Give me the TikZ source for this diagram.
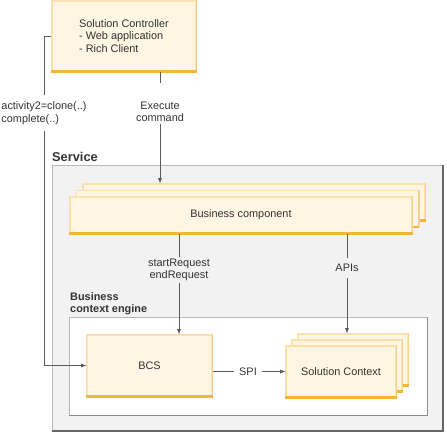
\documentclass[tikz,border=0pt]{standalone}
\usepackage{fontspec}
\setmainfont{Liberation Sans}
\usetikzlibrary{arrows}

\definecolor{cardfill}{HTML}{FEF6E2}
\definecolor{cardedge}{HTML}{FBE1B0}
\definecolor{cardside}{HTML}{F9D08A}
\definecolor{cardbase}{HTML}{F5B53A}
\definecolor{panelfill}{HTML}{F2F2F2}
\definecolor{wirecol}{HTML}{5A5A5A}
\definecolor{inktext}{HTML}{333333}

\tikzset{
	cardrim/.style={draw=cardside, line width=1.5pt},
	cardfoot/.style={draw=cardbase, line width=2.6pt},
	card/.style={fill=cardfill, draw=cardedge, line width=1.2pt, inner sep=2pt,
		append after command={
			(\tikzlastnode.north east) edge[cardrim] (\tikzlastnode.south east)
			(\tikzlastnode.south west) edge[cardfoot] (\tikzlastnode.south east)}},
	lbl/.style={font=\fontsize{10.9}{12.5}\selectfont, text=inktext, align=center, inner sep=2pt},
	head/.style={font=\bfseries\fontsize{10.9}{12.8}\selectfont, text=inktext, align=left, inner sep=0pt},
	wire/.style={draw=wirecol, line width=0.8pt},
	panel/.style={fill=panelfill, draw=gray!55, line width=0.8pt},
	panelrim/.style={draw=black!60, line width=1.5pt}
}

\begin{document}
\begin{tikzpicture}[x=1pt, y=-1pt]
		\useasboundingbox (0,0) rectangle (447,436);
		% service panel
		\draw[panel] (52,165) rectangle (443,431);
		\draw[panelrim] (443,165) -- (443,431) -- (52,431);
		\node[head, font=\bfseries\fontsize{12.8}{14}\selectfont, anchor=west] (svctitle) at (52,157) {Service};
		% business context engine
		\draw[panel, fill=white] (69,317) rectangle (427,415);
		\draw[panelrim, line width=1pt, draw=gray!90] (427,317) -- (427,415) -- (69,415);
		\node[head, anchor=north west] (bcetitle) at (70,292) {Business\\context engine};
		% cards
		\node[card, lbl, align=left, minimum width=144pt, minimum height=70pt] (ctrl) at (124,36) {Solution Controller\\- Web application\\- Rich Client};
		\foreach \k in {2,1}
			\node[card, minimum width=342pt, minimum height=36pt] (biz\k) at (241+6.5*\k, 215-6.5*\k) {};
		\node[card, lbl, minimum width=342pt, minimum height=36pt] (biz) at (241,215) {Business component};
		\node[card, lbl, minimum width=125pt, minimum height=61pt] (bcs) at (149.5,365.5) {BCS};
		\foreach \k in {2,1}
			\node[card, minimum width=110pt, minimum height=51pt] (ctx\k) at (341+6*\k, 371.5-6*\k) {};
		\node[card, lbl, minimum width=110pt, minimum height=51pt] (ctx) at (341,371.5) {Solution Context};
		% labels on the wires
		\node[lbl, align=left, inner xsep=0pt, inner ysep=6pt] (clone) at (44,113) {activity2=clone(..)\\complete(..)};
		\node[lbl] (exec) at (160,112) {Execute\\command};
		\node[lbl] (req) at (179,270) {startRequest\\endRequest};
		\node[lbl, inner ysep=6pt] (apis) at (347,268) {APIs};
		\node[lbl, inner xsep=5pt] (spi) at (248,371.5) {SPI};
		% wires
		\draw[wire] (ctrl.west) -| (clone.north);
		\draw[wire, -latex] (clone.south) |- (bcs.west);
		\draw[wire] (exec.north |- ctrl.south) -- ([yshift=17pt]exec.north);
		\draw[wire, -latex] (exec.south) -- (exec.south |- biz2.north);
		\draw[wire] (req.north |- biz.south) -- (req.north);
		\draw[wire, -latex] (req.south) -- (req.south |- bcs.north);
		\draw[wire] (apis.north |- biz.south) -- (apis.north);
		\draw[wire, -latex] (apis.south) -- (apis.south |- ctx2.north);
		\draw[wire] (bcs.east |- spi.west) -- (spi.west);
		\draw[wire, -latex] (spi.east) -- (ctx.west);
	\end{tikzpicture}
\end{document}
